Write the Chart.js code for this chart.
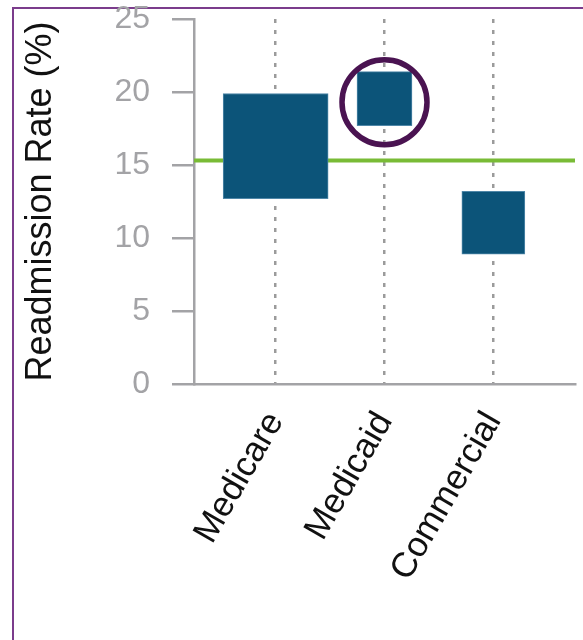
<!DOCTYPE html>
<html>
<head>
<meta charset="utf-8">
<script src="https://cdn.jsdelivr.net/npm/chart.js@4"></script>
<style>
    html, body { margin: 0; padding: 0; background: #fff; overflow: hidden; }
    #frame {
        position: absolute; left: 12px; top: 7px; width: 700px; height: 700px;
        border-left: 2px solid #7b3c8c; border-top: 2px solid #7b3c8c;
    }
    #wrap { position: absolute; left: 0; top: 0; width: 583px; height: 640px; }
</style>
</head>
<body>
<div id="frame"></div>
<div id="wrap"><canvas id="chart"></canvas></div>
<script>
const categories = ['Medicare', 'Medicaid', 'Commercial'];
const rateLow = [12.7, 17.7, 8.9];
const rateHigh = [19.9, 21.4, 13.2];
const overallRate = 15.3;
const highlighted = 'Medicaid';

// box widths in px for each payer
const boxWidths = [105, 55, 63];
const xMin = -0.75, xMax = 2.75;

const FONT = "'Liberation Sans', Arial, Helvetica, sans-serif";
const AXIS_GREY = '#a3a3a6';
const BOX_COLOR = '#0c5479';

const barSets = categories.map((name, i) => ({
    type: 'bar',
    label: name,
    data: [{x: i, y: [rateLow[i], rateHigh[i]]}],
    backgroundColor: BOX_COLOR,
    borderColor: '#4f87a8',
    borderWidth: 1,
    borderSkipped: false,
    barThickness: boxWidths[i],
    grouped: false,
    order: 1
}));

const avgLine = {
    type: 'line',
    label: 'All payers',
    data: [{x: xMin, y: overallRate}, {x: xMax, y: overallRate}],
    borderColor: '#79bb36',
    borderWidth: 4,
    pointRadius: 0,
    order: 2
};

const circlePlugin = {
    id: 'circle',
    afterDatasetsDraw(chart) {
        const i = categories.indexOf(highlighted);
        const {ctx, scales} = chart;
        const cx = scales.x.getPixelForValue(i);
        const cy = scales.y.getPixelForValue(19.3);
        ctx.save();
        ctx.beginPath();
        ctx.arc(cx, cy, 42.5, 0, Math.PI * 2);
        ctx.lineWidth = 5.5;
        ctx.strokeStyle = '#4a1351';
        ctx.stroke();
        ctx.restore();
    }
};

new Chart(document.getElementById('chart'), {
    type: 'bar',
    data: { datasets: [...barSets, avgLine] },
    options: {
        responsive: true,
        maintainAspectRatio: false,
        animation: false,
        layout: { padding: { left: 0, right: 8, top: 19, bottom: 0 } },
        plugins: {
            legend: { display: false },
            tooltip: { enabled: false }
        },
        scales: {
            x: {
                type: 'linear',
                min: xMin,
                max: xMax,
                offset: false,
                afterBuildTicks: s => { s.ticks = categories.map((_, i) => ({value: i})); },
                afterFit: s => { s.height = 256; },
                border: { color: AXIS_GREY, width: 2.5, dash: [4, 7] },
                grid: {
                    offset: false,
                    drawTicks: false,
                    color: '#9b9b9b',
                    lineWidth: 2.5
                },
                ticks: {
                    autoSkip: false,
                    minRotation: 60,
                    maxRotation: 60,
                    padding: 21,
                    color: '#111',
                    font: { family: FONT, size: 35 },
                    callback: v => categories[v]
                }
            },
            y: {
                min: 0,
                max: 25,
                afterFit: s => { s.width = 194; s.paddingTop = 0; s.paddingBottom = 0; },
                border: { color: AXIS_GREY, width: 2.5 },
                grid: {
                    drawOnChartArea: false,
                    tickLength: 22,
                    color: AXIS_GREY,
                    lineWidth: 2.5
                },
                ticks: {
                    stepSize: 5,
                    padding: 22,
                    color: AXIS_GREY,
                    font: { family: FONT, size: 32 }
                },
                title: {
                    display: true,
                    text: 'Readmission Rate (%)',
                    color: '#111',
                    font: { family: FONT, size: 36 },
                    padding: { top: 19, bottom: 0 }
                }
            }
        }
    },
    plugins: [circlePlugin]
});
</script>
</body>
</html>
